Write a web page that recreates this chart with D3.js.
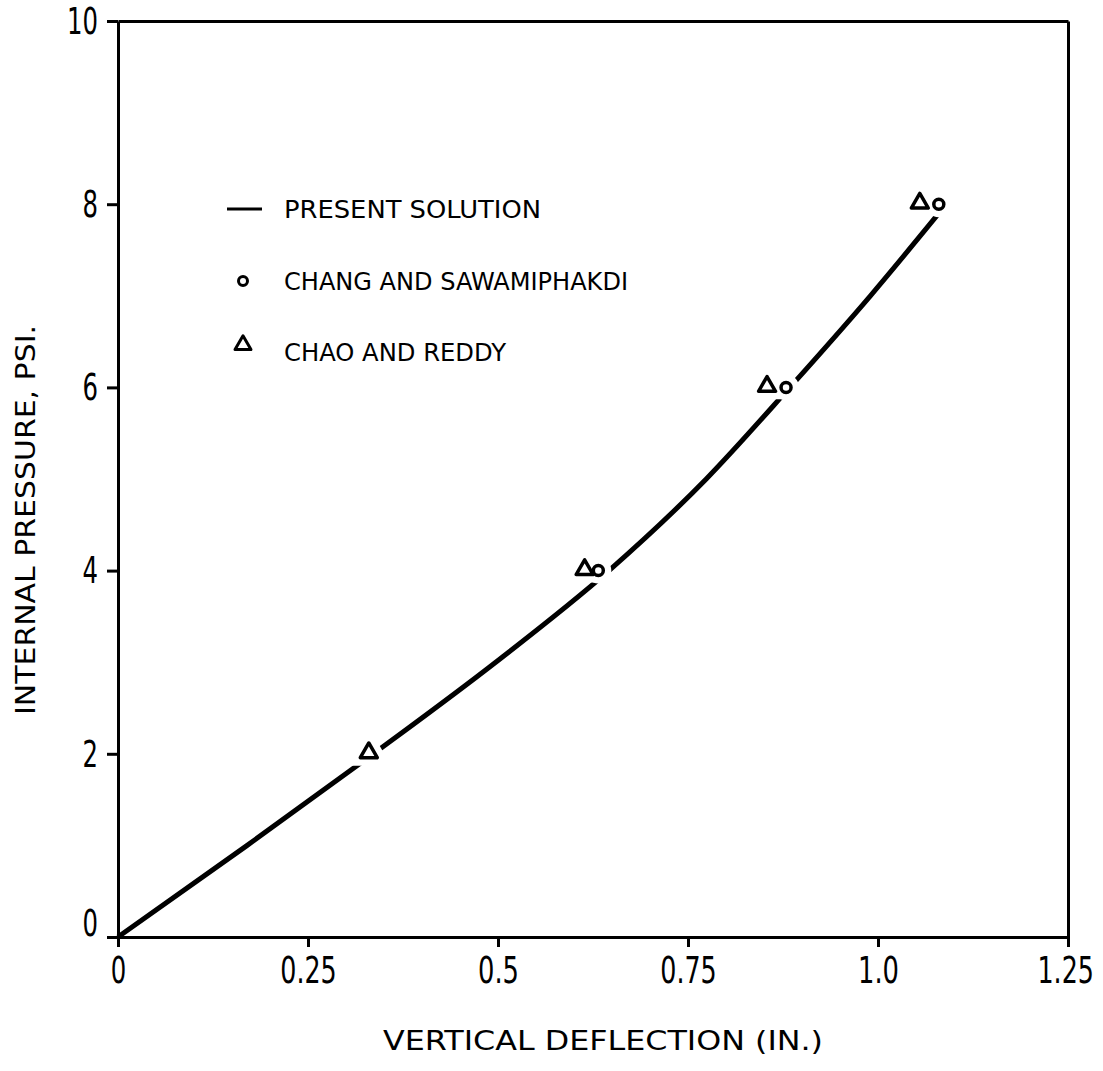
<!DOCTYPE html>
<html>
<head>
<meta charset="utf-8">
<script src="https://cdn.jsdelivr.net/npm/d3@7"></script>
<style>
  body { margin: 0; background: #fff; }
  svg { display: block; }
  text { font-family: "DejaVu Sans Condensed", "Liberation Sans Narrow", "DejaVu Sans", sans-serif; fill: #000; }
</style>
</head>
<body>
<svg id="chart" width="1103" height="1071"></svg>
<script>
// present solution curve (deflection in., pressure psi)
var curveX = [0, 0.17, 0.336, 0.497, 0.646, 0.774, 0.884, 0.99, 1.078];
var curveP = [0, 1, 2, 3, 4, 5, 6, 7, 7.88];

// Chang and Sawamiphakdi (circles)
var changX = [0.632, 0.879, 1.080];
var changP = [4, 6, 8];

// Chao and Reddy (triangles)
var chaoX = [0.330, 0.614, 0.854, 1.055];
var chaoP = [2, 4, 6, 8];

var xTicks = [0, 0.25, 0.5, 0.75, 1.0, 1.25];
var xTickLabels = ['0', '0.25', '0.5', '0.75', '1.0', '1.25'];
var yTicks = [0, 2, 4, 6, 8, 10];

var legendLabels = ['PRESENT SOLUTION', 'CHANG AND SAWAMIPHAKDI', 'CHAO AND REDDY'];

var svg = d3.select('#chart');

var x = d3.scaleLinear().domain([0, 1.25]).range([118, 1068]);
var y = d3.scaleLinear().domain([0, 10]).range([937, 21]);

// narrow typewriter-ish digits
function labelWidth(s) {
    return d3.sum(s.split(''), c => c === '.' ? 10 : 15.5);
}

// frame
var g = svg.append('g');

var xAxis = g.append('g')
    .attr('transform', 'translate(0,' + y(0) + ')')
    .call(d3.axisBottom(x)
        .tickValues(xTicks)
        .tickFormat((d, i) => xTickLabels[i])
        .tickSizeInner(10)
        .tickSizeOuter(0)
        .tickPadding(10));

var yAxis = g.append('g')
    .attr('transform', 'translate(' + x(0) + ',0)')
    .call(d3.axisLeft(y)
        .tickValues(yTicks)
        .tickSizeInner(11)
        .tickSizeOuter(0)
        .tickPadding(9));

g.append('g')
    .attr('transform', 'translate(0,' + y(10) + ')')
    .call(d3.axisTop(x).tickValues([]).tickSizeOuter(0));

g.append('g')
    .attr('transform', 'translate(' + x(1.25) + ',0)')
    .call(d3.axisRight(y).tickValues([]).tickSizeOuter(0));

g.selectAll('.domain').attr('stroke', '#000').attr('stroke-width', 3);
g.selectAll('.tick line').attr('stroke', '#000').attr('stroke-width', 3);
yAxis.selectAll('.tick text').attr('dy', '0.33em');
yAxis.selectAll('.tick').filter(d => d === 0).select('text').attr('dy', '-0.05em');

// squeeze the tick labels sideways so they look like the narrow lettering
g.selectAll('.tick text')
    .attr('font-size', 37)
    .attr('font-family', '"DejaVu Sans Condensed", "DejaVu Sans", sans-serif')
    .each(function () {
        var t = d3.select(this);
        var sx = labelWidth(this.textContent) / this.getComputedTextLength();
        var x0 = +t.attr('x') || 0;
        t.attr('x', x0 / sx).attr('transform', 'scale(' + sx + ',1)');
    });
xAxis.selectAll('.tick').filter(d => d === 1.25).select('text').attr('dx', '-0.1em');

// curve
var line = d3.line()
    .x(d => x(d[0]))
    .y(d => y(d[1]))
    .curve(d3.curveMonotoneX);

svg.append('path')
    .datum(d3.zip(curveX, curveP))
    .attr('d', line)
    .attr('fill', 'none')
    .attr('stroke', '#000')
    .attr('stroke-width', 5);

var tri = d3.symbol().type(d3.symbolTriangle).size(125);

var chao = d3.zip(chaoX, chaoP);
var chang = d3.zip(changX, changP);

// white halos that break the curve round the markers
svg.append('g').selectAll('path')
    .data(chao)
    .enter()
    .append('path')
    .attr('d', tri)
    .attr('transform', d => 'translate(' + x(d[0]) + ',' + (y(d[1]) - 1) + ')')
    .attr('fill', '#fff')
    .attr('stroke', '#fff')
    .attr('stroke-width', 16);

svg.append('g').selectAll('circle')
    .data(chang)
    .enter()
    .append('circle')
    .attr('cx', d => x(d[0]))
    .attr('cy', d => y(d[1]))
    .attr('r', 5)
    .attr('fill', '#fff')
    .attr('stroke', '#fff')
    .attr('stroke-width', 16);

svg.append('g').selectAll('path')
    .data(chao)
    .enter()
    .append('path')
    .attr('d', tri)
    .attr('transform', d => 'translate(' + x(d[0]) + ',' + (y(d[1]) - 1) + ')')
    .attr('fill', '#fff')
    .attr('stroke', '#000')
    .attr('stroke-width', 3.5)
    .attr('stroke-linejoin', 'round');

svg.append('g').selectAll('circle')
    .data(chang)
    .enter()
    .append('circle')
    .attr('cx', d => x(d[0]))
    .attr('cy', d => y(d[1]))
    .attr('r', 5)
    .attr('fill', '#fff')
    .attr('stroke', '#000')
    .attr('stroke-width', 3.5);

// legend
var legend = svg.append('g');
var legendY = [209, 281, 352];
var legendW = [257, 344, 222];

legend.append('line')
    .attr('x1', 227).attr('x2', 262)
    .attr('y1', legendY[0]).attr('y2', legendY[0])
    .attr('stroke', '#000').attr('stroke-width', 3);

legend.append('circle')
    .attr('cx', 243).attr('cy', legendY[1])
    .attr('r', 4.5)
    .attr('fill', '#fff').attr('stroke', '#000').attr('stroke-width', 3);

legend.append('path')
    .attr('d', d3.symbol().type(d3.symbolTriangle).size(110))
    .attr('transform', 'translate(243,' + (legendY[2] - 7) + ')')
    .attr('fill', '#fff').attr('stroke', '#000').attr('stroke-width', 3)
    .attr('stroke-linejoin', 'round');

legend.selectAll('text')
    .data(legendLabels)
    .enter()
    .append('text')
    .attr('x', 284)
    .attr('y', (d, i) => legendY[i] + 9)
    .attr('font-size', 25)
    .attr('textLength', (d, i) => legendW[i])
    .attr('lengthAdjust', 'spacingAndGlyphs')
    .text(d => d);

// axis titles
svg.append('text')
    .attr('x', 383)
    .attr('y', 1050)
    .attr('font-size', 26)
    .attr('textLength', 440)
    .attr('lengthAdjust', 'spacingAndGlyphs')
    .text('VERTICAL DEFLECTION (IN.)');

svg.append('text')
    .attr('transform', 'translate(35,715) rotate(-90)')
    .attr('font-size', 26)
    .attr('textLength', 390)
    .attr('lengthAdjust', 'spacingAndGlyphs')
    .text('INTERNAL PRESSURE, PSI.');
</script>
</body>
</html>
